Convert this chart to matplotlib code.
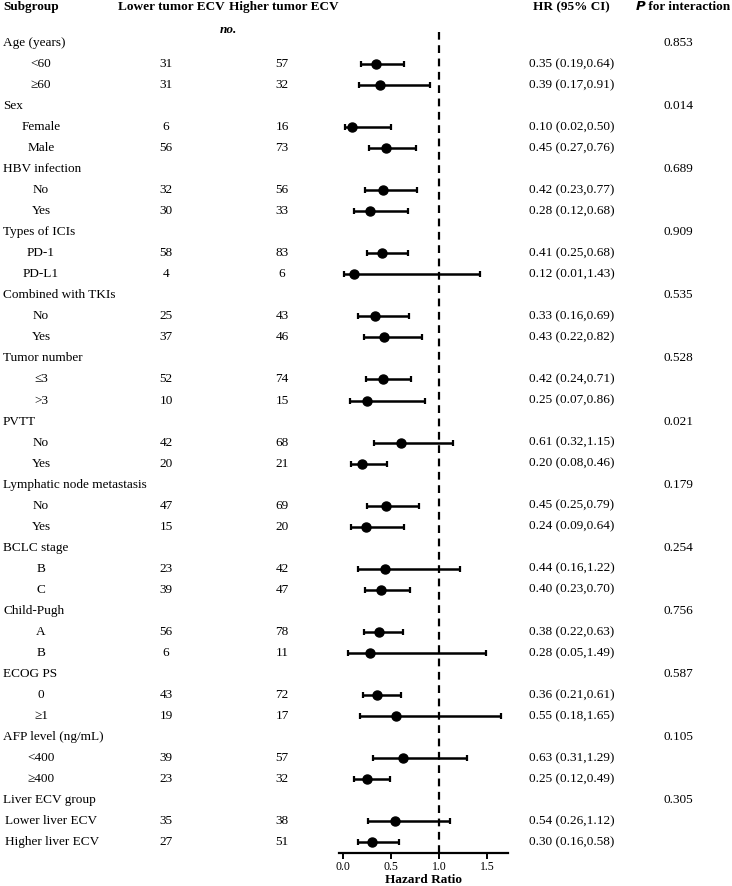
import matplotlib
matplotlib.use('Agg')
import matplotlib.pyplot as plt
import matplotlib.transforms as mtransforms
import numpy as np

plt.rcParams['font.family'] = ['Liberation Serif', 'DejaVu Serif']

groups = ['Age (years)', 'Sex', 'HBV infection', 'Types of ICIs', 'Combined with TKIs',
          'Tumor number', 'PVTT', 'Lymphatic node metastasis', 'BCLC stage', 'Child-Pugh',
          'ECOG PS', 'AFP level (ng/mL)', 'Liver ECV group']
p_interaction = ['0.853', '0.014', '0.689', '0.909', '0.535', '0.528', '0.021', '0.179',
                 '0.254', '0.756', '0.587', '0.105', '0.305']
subgroups = [['<60', '≥60'], ['Female', 'Male'], ['No', 'Yes'], ['PD-1', 'PD-L1'],
             ['No', 'Yes'], ['≤3', '>3'], ['No', 'Yes'], ['No', 'Yes'], ['B', 'C'],
             ['A', 'B'], ['0', '≥1'], ['<400', '≥400'],
             ['Lower liver ECV', 'Higher liver ECV']]
n_lower = [31, 31, 6, 56, 32, 30, 58, 4, 25, 37, 52, 10, 42, 20, 47, 15, 23, 39, 56, 6,
           43, 19, 39, 23, 35, 27]
n_higher = [57, 32, 16, 73, 56, 33, 83, 6, 43, 46, 74, 15, 68, 21, 69, 20, 42, 47, 78, 11,
            72, 17, 57, 32, 38, 51]
hr = [0.35, 0.39, 0.10, 0.45, 0.42, 0.28, 0.41, 0.12, 0.33, 0.43, 0.42, 0.25, 0.61, 0.20,
      0.45, 0.24, 0.44, 0.40, 0.38, 0.28, 0.36, 0.55, 0.63, 0.25, 0.54, 0.30]
ci_low = [0.19, 0.17, 0.02, 0.27, 0.23, 0.12, 0.25, 0.01, 0.16, 0.22, 0.24, 0.07, 0.32,
          0.08, 0.25, 0.09, 0.16, 0.23, 0.22, 0.05, 0.21, 0.18, 0.31, 0.12, 0.26, 0.16]
ci_high = [0.64, 0.91, 0.50, 0.76, 0.77, 0.68, 0.68, 1.43, 0.69, 0.82, 0.71, 0.86, 1.15,
           0.46, 0.79, 0.64, 1.22, 0.70, 0.63, 1.49, 0.61, 1.65, 1.29, 0.49, 1.12, 0.58]
xticks = [0.0, 0.5, 1.0, 1.5]

W, H = 732, 886
fig = plt.figure(figsize=(W / 100, H / 100), dpi=100)
row_h = 21.03
first_row = 43


def px_to_row(py):
    return 1 + (py - first_row) / row_h


ax = fig.add_axes([339 / W, (H - 853) / H, (508 - 339) / W, (853 - 32) / H])
ax.set_xlim(-0.04, 1.72)
ax.set_ylim(px_to_row(853), px_to_row(32))

trans = mtransforms.blended_transform_factory(fig.transFigure, ax.transData)
fs = 9.5


def put(xpx, y, s, **kw):
    kw.setdefault('fontsize', fs)
    kw.setdefault('va', 'center')
    ax.text(xpx / W, y, s, transform=trans, clip_on=False, **kw)


# header
hy = px_to_row(7)
put(3, hy, 'Subgroup', fontweight='bold')
put(171, hy, 'Lower tumor ECV', fontweight='bold', ha='center')
put(284, hy, 'Higher tumor ECV', fontweight='bold', ha='center')
put(571, hy, 'HR (95% CI)', fontweight='bold', ha='center')
put(635, hy, r'$\mathbfit{P}$', fontweight='bold', ha='left')
put(645, hy, ' for interaction', fontweight='bold', ha='left')
put(228, px_to_row(30), 'no.', fontweight='bold', style='italic', ha='center')

row = 1
k = 0
ys, xs, lo, hi = [], [], [], []
for g, grp in enumerate(groups):
    put(3, row, grp)
    put(678, row, p_interaction[g], ha='center')
    row += 1
    for lab in subgroups[g]:
        if len(lab) > 6:
            put(5, row, lab)
        else:
            put(41, row, lab, ha='center')
        put(166, row, str(n_lower[k]), ha='center')
        put(282, row, str(n_higher[k]), ha='center')
        put(529, row, '{:.2f} ({:.2f},{:.2f})'.format(hr[k], ci_low[k], ci_high[k]))
        ys.append(row)
        xs.append(hr[k])
        lo.append(hr[k] - ci_low[k])
        hi.append(ci_high[k] - hr[k])
        row += 1
        k += 1

ax.axvline(1.0, color='black', lw=1.6, linestyle=(0, (3.5, 2.5)), zorder=1)
ax.errorbar(xs, ys, xerr=[lo, hi], fmt='o', color='black', ms=6.5, elinewidth=1.8,
            capsize=2.5, capthick=1.6, zorder=3)

for s in ['top', 'right', 'left']:
    ax.spines[s].set_visible(False)
ax.spines['bottom'].set_linewidth(1.6)
ax.set_yticks([])
ax.set_xticks(xticks)
ax.set_xticklabels(['{:.1f}'.format(t) for t in xticks], fontsize=8.5)
ax.tick_params(axis='x', length=4, width=1.4, pad=2)
ax.set_xlabel('Hazard Ratio', fontsize=fs, fontweight='bold', labelpad=0.5)

fig.savefig('out.png', dpi=100)
